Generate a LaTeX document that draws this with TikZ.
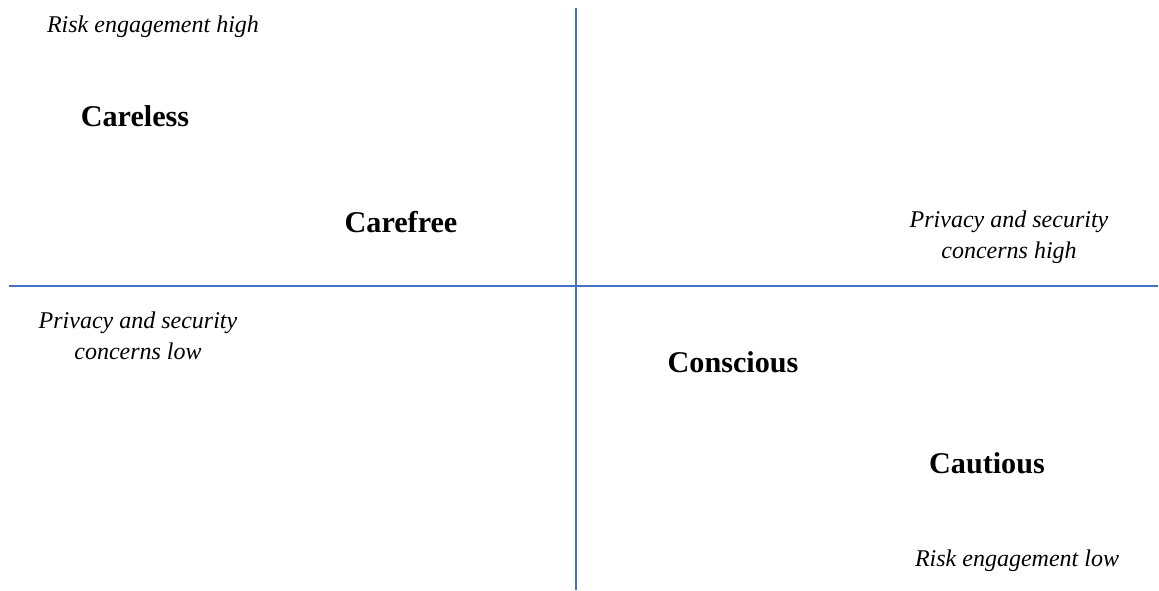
\documentclass[tikz,border=0pt]{standalone}
\usepackage{fontspec}
\setmainfont{Liberation Serif}
\usepackage{tikz}
\usetikzlibrary{positioning}
\definecolor{axisblue}{HTML}{4472C4}

\begin{document}
\begin{tikzpicture}[
  x=0.75pt, y=-0.75pt,
  quad/.style={font=\fontsize{22.6}{27}\selectfont\bfseries, inner sep=0pt},
  pole/.style={font=\fontsize{18}{23.25}\selectfont\itshape, align=center, inner sep=0pt},
  axis/.style={draw=axisblue, line width=0.9pt}
]
\useasboundingbox (0,0) rectangle (1159,591);

\coordinate (top) at (576,8);
\coordinate (bottom) at (576,590);
\coordinate (left) at (9,286);
\coordinate (right) at (1158,286);

\node[pole] (riskhigh) at (153,27) {Risk engagement high};
\node[pole] (privhigh) at (1009,237) {Privacy and security\\concerns high};
\node[pole] (privlow) at (138,336) {Privacy and security\\concerns low};
\node[pole] (risklow) at (1017,561) {Risk engagement low};

\node[quad] (careless) at (135,116) {Careless};
\node[quad] (carefree) at (401,222) {Carefree};
\node[quad] (conscious) at (733,362) {Conscious};
\node[quad] (cautious) at (987,463) {Cautious};

\draw[axis] (top) -- (bottom);
\draw[axis] (left) -- (right);
\end{tikzpicture}
\end{document}
